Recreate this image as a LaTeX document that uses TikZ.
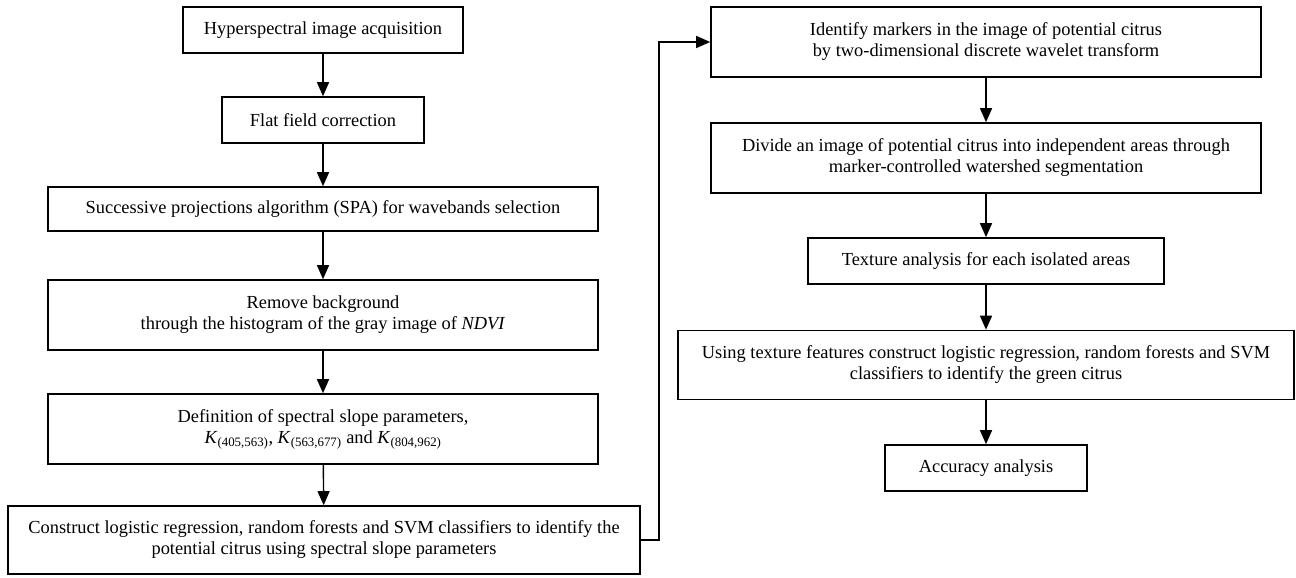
\documentclass[tikz,border=0pt]{standalone}
\usepackage{fontspec}
\setmainfont{Liberation Serif}
\usetikzlibrary{arrows.meta}

\begin{document}
\begin{tikzpicture}[x=1pt,y=-1pt,
  procbox/.style={draw, line width=1.6pt, align=center, inner sep=0pt,
    font=\fontsize{18.4}{21}\selectfont},
  flowarrow/.style={line width=1.4pt, -{Triangle[length=14pt,width=12pt]}}]
  \useasboundingbox (0,0) rectangle (1296,578);

  % left column
  \node [procbox, minimum width=280pt, minimum height=46pt] (acq) at (323,30)
    {Hyperspectral image acquisition};
  \node [procbox, minimum width=202pt, minimum height=46pt] (flat) at (323,120)
    {Flat field correction};
  \node [procbox, minimum width=550pt, minimum height=44pt] (spa) at (323,209)
    {Successive projections algorithm (SPA) for wavebands selection};
  \node [procbox, minimum width=550pt, minimum height=70pt] (bg) at (323,315)
    {Remove background\\through the histogram of the gray image of \textit{NDVI}};
  \node [procbox, minimum width=550pt, minimum height=70pt] (slope) at (323,429)
    {Definition of spectral slope parameters,\\
     \textit{K}\textsubscript{(405,563)}, \textit{K}\textsubscript{(563,677)}
     and \textit{K}\textsubscript{(804,962)}};
  \node [procbox, minimum width=632pt, minimum height=68pt] (cls) at (324,540)
    {Construct logistic regression, random forests and SVM classifiers to identify the\\
     potential citrus using spectral slope parameters};

  % right column
  \node [procbox, minimum width=550pt, minimum height=70pt] (mark) at (986,42)
    {Identify markers in the image of potential citrus\\
     by two-dimensional discrete wavelet transform};
  \node [procbox, minimum width=550pt, minimum height=70pt] (water) at (986,158)
    {Divide an image of potential citrus into independent areas through\\
     marker-controlled watershed segmentation};
  \node [procbox, minimum width=356pt, minimum height=46pt] (tex) at (986,261)
    {Texture analysis for each isolated areas};
  \node [procbox, minimum width=616pt, minimum height=69pt] (usetex) at (986,365)
    {Using texture features construct logistic regression, random forests and SVM\\
     classifiers to identify the green citrus};
  \node [procbox, minimum width=202pt, minimum height=46pt] (acc) at (986,468)
    {Accuracy analysis};

  \draw [flowarrow] (acq) -- (flat);
  \draw [flowarrow] (flat) -- (spa);
  \draw [flowarrow] (spa) -- (bg);
  \draw [flowarrow] (bg) -- (slope);
  \draw [flowarrow] (slope) -- (cls);
  \draw [flowarrow] (cls.east) -- ++(18,0) |- (mark.west);
  \draw [flowarrow] (mark) -- (water);
  \draw [flowarrow] (water) -- (tex);
  \draw [flowarrow] (tex) -- (usetex);
  \draw [flowarrow] (usetex) -- (acc);
\end{tikzpicture}
\end{document}
